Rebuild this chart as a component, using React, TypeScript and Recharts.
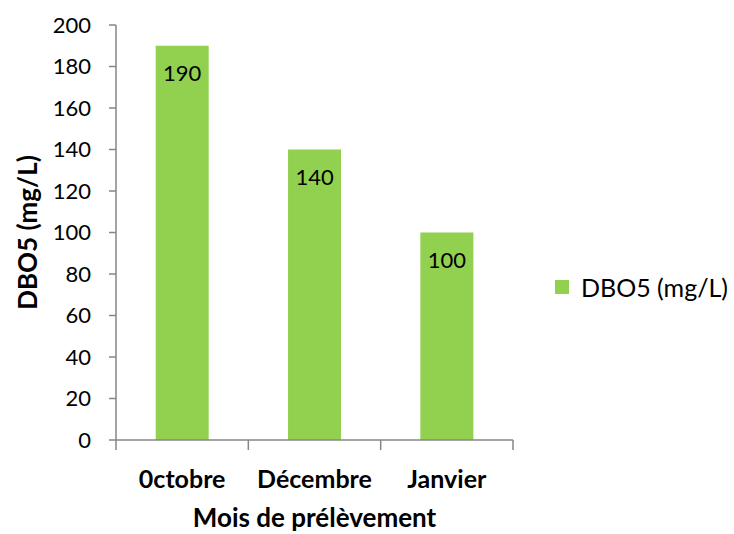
import { BarChart, Bar, XAxis, YAxis, Legend, LabelList } from 'recharts';

const months = ['0ctobre', 'Décembre', 'Janvier'];
const dbo5 = [190, 140, 100];
const yTicks = [0, 20, 40, 60, 80, 100, 120, 140, 160, 180, 200];

const data = months.map((m, i) => ({ name: m, value: dbo5[i] }));

const FONT = 'Lato, "Open Sans", sans-serif';
const GREEN = '#92D050';
const AXIS = '#868686';

// category ticks sit between the bars, like an Excel chart
function MonthTick(props: any) {
  const { x, y, payload, index, width } = props;
  const band = width / months.length;
  const left = x - band / 2;
  return (
    <g>
      <line x1={left} y1={y - 8} x2={left} y2={y + 2} stroke={AXIS} strokeWidth={1.5} />
      {index === months.length - 1 && (
        <line x1={left + band} y1={y - 8} x2={left + band} y2={y + 2} stroke={AXIS} strokeWidth={1.5} />
      )}
      <text x={x} y={y + 40} textAnchor="middle" fontFamily={FONT} fontWeight="bold" fontSize={25} fill="#000">
        {payload.value}
      </text>
    </g>
  );
}

function LegendBox() {
  return (
    <div style={{ display: 'flex', alignItems: 'center', fontFamily: FONT, fontSize: 25, color: '#000' }}>
      <span style={{ width: 14, height: 14, background: GREEN, display: 'inline-block', marginRight: 12 }} />
      DBO5 (mg/L)
    </div>
  );
}

export default function App() {
  return (
    <div style={{ position: 'absolute', left: 0, top: 0, background: '#fff' }}>
      <BarChart
        width={734}
        height={534}
        data={data}
        margin={{ top: 25, right: 0, left: 0, bottom: 34 }}
        barCategoryGap="30%"
      >
        <XAxis
          dataKey="name"
          height={60}
          axisLine={{ stroke: AXIS, strokeWidth: 1.5 }}
          tickLine={false}
          tick={<MonthTick />}
          interval={0}
          label={{
            value: 'Mois de prélèvement',
            position: 'bottom',
            offset: 9,
            style: { fontFamily: FONT, fontWeight: 'bold', fontSize: 26, fill: '#000' },
          }}
        />
        <YAxis
          domain={[0, 200]}
          ticks={yTicks}
          width={116}
          axisLine={{ stroke: AXIS, strokeWidth: 1.5 }}
          tickLine={{ stroke: AXIS, strokeWidth: 1.5 }}
          tickSize={7}
          tickMargin={18}
          tick={{ fontFamily: FONT, fontSize: 22, fill: '#000' }}
          label={{
            value: 'DBO5 (mg/L)',
            angle: -90,
            position: 'insideLeft',
            offset: 28,
            style: { fontFamily: FONT, fontWeight: 'bold', fontSize: 26, fill: '#000', textAnchor: 'middle' },
          }}
        />
        <Legend
          layout="vertical"
          align="right"
          verticalAlign="middle"
          content={<LegendBox />}
          wrapperStyle={{ paddingLeft: 42, paddingTop: 40, width: 179 }}
        />
        <Bar dataKey="value" name="DBO5 (mg/L)" fill={GREEN} isAnimationActive={false}>
          <LabelList
            dataKey="value"
            position="insideTop"
            offset={20}
            style={{ fontFamily: FONT, fontSize: 22, fill: '#000' }}
          />
        </Bar>
      </BarChart>
    </div>
  );
}
